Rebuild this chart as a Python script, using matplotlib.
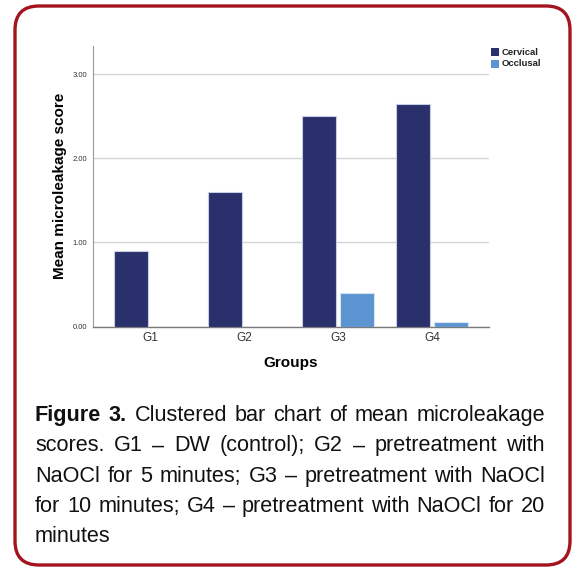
import numpy as np
import matplotlib
matplotlib.use("Agg")
import matplotlib.pyplot as plt
from matplotlib.patches import FancyBboxPatch, Rectangle
from matplotlib.transforms import IdentityTransform

plt.rcParams['font.family'] = ['Liberation Sans', 'DejaVu Sans']

W, H, DPI = 578, 576, 100

GROUPS = ["G1", "G2", "G3", "G4"]
SERIES = ["Cervical", "Occlusal"]
CERVICAL = [0.90, 1.60, 2.50, 2.65]
OCCLUSAL = [0.00, 0.00, 0.40, 0.05]
YTICKS = [0, 1, 2, 3]
YTICKLABELS = ["0.00", "1.00", "2.00", "3.00"]

CAPTION_BOLD = "Figure 3."
CAPTION_LINES = [
    "Figure 3. Clustered bar chart of mean microleakage",
    "scores. G1 \u2013 DW (control); G2 \u2013 pretreatment with",
    "NaOCl for 5 minutes; G3 \u2013 pretreatment with NaOCl",
    "for 10 minutes; G4 \u2013 pretreatment with NaOCl for 20",
    "minutes",
]

C_CERV = '#29306B'
C_OCCL = '#5B94D0'
C_FRAME = '#A3141E'
BAR_W = 0.36
OFFSET = 0.2

fig = plt.figure(figsize=(W / DPI, H / DPI), dpi=DPI)
ax = fig.add_axes([92.7 / W, 1 - 326.7 / H, (489.3 - 92.7) / W, (326.7 - 46) / H])

x = np.arange(len(GROUPS))
ax.bar(x - OFFSET, CERVICAL, BAR_W, color=C_CERV, edgecolor='#c9cde3', lw=0.8, zorder=3)
ax.bar(x + OFFSET, OCCLUSAL, BAR_W, color=C_OCCL, edgecolor='#d6e4f4', lw=0.8, zorder=3)

ax.set_xlim(-0.61, 3.61)
ax.set_ylim(0, 3.333)
ax.set_yticks(YTICKS)
ax.set_yticklabels(YTICKLABELS, fontsize=5.5, color='#333333')
ax.set_xticks(x)
ax.set_xticklabels(GROUPS, fontsize=8.5, color='#333333')
ax.tick_params(axis='y', length=0, pad=4)
ax.tick_params(axis='x', length=0, pad=4)
ax.yaxis.grid(True, color='#d4d4d4', lw=1)
ax.set_axisbelow(True)
for s in ['top', 'right']:
    ax.spines[s].set_visible(False)
ax.spines['left'].set_color('#9a9a9a')
ax.spines['bottom'].set_color('#7a7a7a')
ax.spines['left'].set_linewidth(0.8)
ax.spines['bottom'].set_linewidth(1.0)

fig.text(60 / W, 1 - 186 / H, "Mean microleakage score", rotation=90,
         fontsize=11, fontweight='bold', ha='center', va='center')
fig.text(291 / W, 1 - 363 / H, "Groups", fontsize=11, fontweight='bold',
         ha='center', va='center')

# legend drawn by hand, outside the axes
for i, (name, col) in enumerate(zip(SERIES, [C_CERV, C_OCCL])):
    ytop = 48.3 + i * 11.8
    fig.add_artist(Rectangle((491.3, H - ytop - 7.5), 8, 7.5, transform=IdentityTransform(),
                             facecolor=col, edgecolor='none'))
    fig.text(502 / W, 1 - (ytop + 3.8) / H, name, fontsize=6.8, fontweight='bold',
             color='#222222', ha='left', va='center')

# rounded frame
fig.add_artist(FancyBboxPatch((15, 11), 555, 559, boxstyle="round,pad=0,rounding_size=24",
                              transform=IdentityTransform(), facecolor='none',
                              edgecolor=C_FRAME, lw=2.4))

# justified caption
renderer = fig.canvas.get_renderer()
LEFT, RIGHT = 35, 545
baselines = [420.7, 451.3, 481.7, 512.0, 542.5]
for li, (line, base) in enumerate(zip(CAPTION_LINES, baselines)):
    words = line.split(" ")
    texts = []
    nbold = len(CAPTION_BOLD.split(" ")) if li == 0 else 0
    for wi, w in enumerate(words):
        t = fig.text(0, 0, w, fontsize=15.6, ha='left', va='baseline', color='#111111',
                     fontweight='bold' if wi < nbold else 'normal')
        texts.append(t)
    widths = [t.get_window_extent(renderer).width for t in texts]
    if li < len(CAPTION_LINES) - 1:
        gap = (RIGHT - LEFT - sum(widths)) / (len(words) - 1)
    else:
        gap = 5
    xp = LEFT
    for t, w in zip(texts, widths):
        t.set_position((xp / W, 1 - base / H))
        xp += w + gap

fig.savefig("out.png", dpi=DPI)
